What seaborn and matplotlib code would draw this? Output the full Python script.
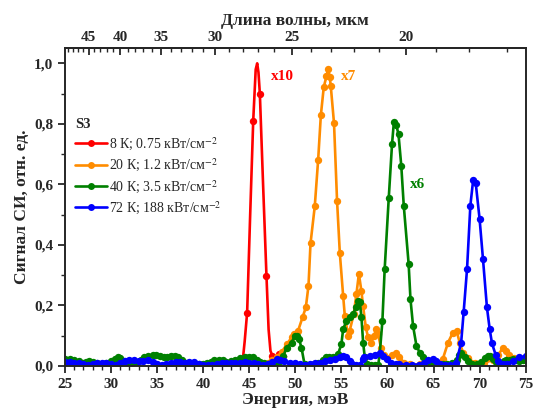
import numpy as np
import pandas as pd
import matplotlib
matplotlib.use("Agg")
import matplotlib.pyplot as plt
from matplotlib.ticker import MultipleLocator, FixedLocator, FuncFormatter
from matplotlib.lines import Line2D
import seaborn as sns

# ---------------- data ----------------
red_E = [42.0, 43.0, 44.0, 44.3, 44.5, 44.77, 45.1, 45.43, 45.7, 45.86, 46.0, 46.15,
         46.5, 46.87, 47.1, 47.3, 47.5, 47.8, 48.2, 48.6, 49.0]
red_v = [0.004, 0.004, 0.004, 0.02, 0.08, 0.176, 0.50, 0.81, 0.98, 1.0, 0.97, 0.90,
         0.60, 0.296, 0.12, 0.05, 0.033, 0.03, 0.039, 0.035, 0.03]
red_marks = [5, 7, 11, 13, 16, 18]

orange_E = [47.0, 47.5, 48.0, 48.5, 49.1, 49.59, 49.84, 50.3, 50.78, 51.14, 51.43, 51.65,
            52.11, 52.48, 52.77, 53.09, 53.38, 53.56, 53.74, 53.85, 54.2, 54.53, 54.83,
            55.19, 55.37, 55.73, 55.9, 56.34, 56.63, 56.9, 57.17, 57.35, 57.65, 57.9,
            58.26, 58.51, 58.8, 58.98, 59.3, 59.6, 60.0, 60.5, 60.9, 61.3, 61.8, 62.5,
            63.5, 64.5, 65.5, 66.0, 66.58, 67.1, 67.5, 67.84, 68.2, 68.7, 69.5, 70.5,
            71.5, 72.0, 72.54, 72.83, 73.2, 73.7, 74.3, 75.0]
orange_v = [0.01, 0.02, 0.03, 0.045, 0.072, 0.094, 0.105, 0.116, 0.16, 0.193, 0.265, 0.405,
            0.527, 0.682, 0.828, 0.922, 0.957, 0.982, 0.955, 0.924, 0.802, 0.546, 0.373,
            0.232, 0.166, 0.099, 0.116, 0.171, 0.237, 0.304, 0.248, 0.199, 0.127, 0.094,
            0.077, 0.099, 0.121, 0.105, 0.06, 0.035, 0.025, 0.035, 0.044, 0.03, 0.01, 0.005,
            0.005, 0.005, 0.01, 0.022, 0.077, 0.11, 0.116, 0.077, 0.044, 0.025, 0.01, 0.01,
            0.02, 0.035, 0.06, 0.05, 0.035, 0.025, 0.02, 0.02]

green_E = [25.0, 25.5, 26.0, 26.5, 26.9, 27.3, 27.6, 28.0, 28.5, 29.0, 29.5, 30.0, 30.4,
           30.7, 31.0, 31.4, 31.8, 32.3, 32.7, 33.2, 33.6, 34.0, 34.5, 34.9, 35.3, 35.7,
           36.1, 36.5, 36.9, 37.3, 37.7, 38.1, 38.5, 39.0, 39.5, 40.0, 40.4, 40.8, 41.2,
           41.7, 42.1, 42.5, 43.0, 43.5, 44.0, 44.5, 45.0, 45.4, 45.8, 46.2, 46.6, 47.0,
           47.5, 48.0, 48.3, 48.7, 49.05, 49.6, 49.95, 50.2, 50.4, 50.67, 51.0, 51.5, 52.0,
           52.5, 53.0, 53.38, 53.7, 54.1, 54.64, 55.0, 55.19, 55.55, 55.9, 56.27, 56.56,
           56.8, 57.0, 57.18, 57.36, 57.54, 57.8, 58.2, 58.6, 59.0, 59.16, 59.45, 59.7,
           60.14, 60.5, 60.7, 60.97, 61.2, 61.5, 61.77, 62.3, 62.5, 62.78, 63.15, 63.5,
           63.9, 64.2, 64.6, 65.0, 65.5, 66.0, 66.5, 67.0, 67.5, 67.8, 68.0, 68.4, 68.75,
           69.2, 69.7, 70.2, 70.6, 70.9, 71.1, 71.45, 71.8, 72.2, 72.6, 72.9, 73.3, 73.6,
           74.0, 74.3, 74.7, 75.0]
green_v = [0.022, 0.023, 0.021, 0.015, 0.011, 0.014, 0.016, 0.013, 0.008, 0.007, 0.008,
           0.015, 0.024, 0.028, 0.025, 0.017, 0.013, 0.011, 0.012, 0.02, 0.028, 0.032,
           0.035, 0.035, 0.031, 0.028, 0.029, 0.033, 0.033, 0.029, 0.02, 0.01, 0.006,
           0.005, 0.005, 0.005, 0.008, 0.014, 0.018, 0.02, 0.018, 0.014, 0.015, 0.02,
           0.026, 0.03, 0.03, 0.028, 0.02, 0.013, 0.008, 0.006, 0.008, 0.012, 0.017,
           0.033, 0.06, 0.077, 0.1, 0.1, 0.088, 0.06, 0.005, 0.003, 0.005, 0.01, 0.02,
           0.028, 0.029, 0.03, 0.039, 0.072, 0.121, 0.149, 0.16, 0.171, 0.193, 0.215,
           0.21, 0.16, 0.077, 0.028, 0.005, 0.003, 0.003, 0.003, 0.039, 0.147, 0.32,
           0.554, 0.734, 0.806, 0.795, 0.765, 0.662, 0.53, 0.337, 0.22, 0.132, 0.066,
           0.044, 0.03, 0.017, 0.01, 0.008, 0.006, 0.005, 0.005, 0.008, 0.02, 0.035,
           0.044, 0.028, 0.017, 0.007, 0.006, 0.012, 0.025, 0.033, 0.033, 0.022, 0.014,
           0.011, 0.016, 0.019, 0.021, 0.022, 0.02, 0.017, 0.018, 0.02]

blue_E = [25.0, 25.5, 26.0, 26.5, 27.0, 27.5, 28.0, 28.5, 29.0, 29.5, 30.0, 30.5, 31.0,
          31.5, 32.0, 32.5, 33.0, 33.5, 34.0, 34.5, 35.0, 35.5, 36.0, 36.5, 37.0, 37.5,
          38.0, 38.5, 39.0, 39.5, 40.0, 40.5, 41.0, 41.5, 42.0, 42.5, 43.0, 43.5, 44.0,
          44.5, 45.0, 45.5, 46.0, 46.5, 47.0, 47.5, 48.0, 48.3, 48.8, 49.4, 50.0, 50.5,
          51.0, 51.6, 52.1, 52.66, 53.2, 53.75, 54.3, 54.8, 55.2, 55.55, 55.9, 56.2,
          56.6, 57.0, 57.3, 57.5, 58.1, 58.6, 59.2, 59.5, 59.9, 60.4, 60.9, 61.3, 62.0,
          62.7, 63.4, 64.0, 64.4, 64.95, 65.3, 65.7, 66.2, 66.8, 67.45, 68.0, 68.27,
          68.64, 69.0, 69.3, 69.58, 70.0, 70.37, 70.8, 71.1, 71.35, 71.75, 72.0, 72.5,
          73.0, 73.6, 74.3, 75.0]
blue_v = [0.012, 0.012, 0.01, 0.008, 0.005, 0.004, 0.007, 0.01, 0.011, 0.01, 0.007,
          0.004, 0.008, 0.015, 0.018, 0.018, 0.016, 0.017, 0.018, 0.014, 0.007, 0.004,
          0.006, 0.011, 0.014, 0.012, 0.011, 0.013, 0.012, 0.007, 0.003, 0.002, 0.003,
          0.006, 0.009, 0.011, 0.01, 0.009, 0.01, 0.012, 0.011, 0.008, 0.005, 0.004,
          0.006, 0.014, 0.022, 0.02, 0.015, 0.011, 0.008, 0.005, 0.004, 0.005, 0.008,
          0.011, 0.015, 0.019, 0.024, 0.028, 0.033, 0.028, 0.017, 0.005, 0.002, 0.003,
          0.022, 0.03, 0.033, 0.036, 0.041, 0.033, 0.022, 0.011, 0.006, 0.005, 0.004,
          0.003, 0.004, 0.01, 0.019, 0.022, 0.017, 0.005, 0.002, 0.002, 0.008, 0.077,
          0.177, 0.32, 0.53, 0.613, 0.605, 0.486, 0.353, 0.193, 0.121, 0.074, 0.036,
          0.017, 0.006, 0.006, 0.017, 0.028, 0.032]

labels = ["8 К; 0.75 кВт/см$^{-2}$", "20 К; 1.2 кВт/см$^{-2}$",
          "40 К; 3.5 кВт/см$^{-2}$", "72 К; 188 кВт/см$^{-2}$"]
colors = ["#ff0000", "#ff8c00", "#008000", "#0000ff"]
factors = ["x10", "x7", "x6"]
factor_pos = [(47.3, 0.955), (54.9, 0.955), (62.4, 0.60)]

xticks = [25, 30, 35, 40, 45, 50, 55, 60, 65, 70, 75]
yticks = [0.0, 0.2, 0.4, 0.6, 0.8, 1.0]
top_major = [45, 40, 35, 30, 25, 20]
top_minor = list(range(17, 50))

# ---------------- style ----------------
sns.set_style("ticks")
plt.rcParams["font.family"] = ["Liberation Serif", "DejaVu Serif"]
plt.rcParams["mathtext.fontset"] = "stix"
plt.rcParams["axes.linewidth"] = 1.4

fig = plt.figure(figsize=(5.35, 4.12), dpi=100)
ax = fig.add_axes([0.1215, 0.112, 0.861, 0.771])

series = [(red_E, red_v), (orange_E, orange_v), (green_E, green_v), (blue_E, blue_v)]
for i, ((E, v), c) in enumerate(zip(series, colors)):
    df = pd.DataFrame({"E": E, "v": v})
    kw = dict(markevery=red_marks) if i == 0 else {}
    sns.lineplot(data=df, x="E", y="v", ax=ax, color=c, marker="o", markersize=5.3,
                 markeredgewidth=0, linewidth=1.9, sort=False, estimator=None,
                 legend=False, **kw)

for txt, (px, py), c in zip(factors, factor_pos, colors[:3]):
    ax.text(px, py, txt, color=c, fontsize=11, fontweight="bold", ha="left", va="center")

ax.set_xlim(25, 75)
ax.set_ylim(0, 1.05)
ax.set_xticks(xticks)
ax.xaxis.set_minor_locator(MultipleLocator(1))
ax.set_yticks(yticks)
ax.yaxis.set_minor_locator(MultipleLocator(0.1))
ax.yaxis.set_major_formatter(FuncFormatter(lambda y, p: f"{y:.1f}".replace(".", ",")))
ax.tick_params(axis="both", which="major", direction="out", length=5, width=1.3,
               labelsize=11)
ax.tick_params(axis="both", which="minor", direction="out", length=3, width=1.0)
ax.tick_params(top=False, right=False)
for lab in ax.get_xticklabels() + ax.get_yticklabels():
    lab.set_fontweight("bold")

ax.set_xlabel("Энергия, мэВ", fontsize=12.5, fontweight="bold", labelpad=1)
ax.set_ylabel("Сигнал СИ, отн. ед.", fontsize=12.5, fontweight="bold", labelpad=3)

conv = lambda x: 1239.84 / np.asarray(x, dtype=float)
sec = ax.secondary_xaxis("top", functions=(conv, conv))
sec.xaxis.set_major_locator(FixedLocator(top_major))
sec.xaxis.set_minor_locator(FixedLocator(top_minor))
sec.tick_params(which="major", direction="in", length=5, width=1.3, labelsize=11, pad=3)
sec.tick_params(which="minor", direction="in", length=3, width=1.0)
for lab in sec.get_xticklabels():
    lab.set_fontweight("bold")
sec.set_xlabel("Длина волны, мкм", fontsize=12.5, fontweight="bold", labelpad=4)

handles = [Line2D([], [], color=c, marker="o", markersize=5, markeredgewidth=0,
                  linewidth=1.9) for c in colors]
leg = ax.legend(handles, labels, loc="upper left", bbox_to_anchor=(0.0, 0.81),
                frameon=False, title="S3", fontsize=10, handlelength=2.3,
                handletextpad=0.2, labelspacing=0.3, borderaxespad=0.3, numpoints=1)
leg.get_title().set_fontweight("bold")
leg.get_title().set_fontsize(10.5)
leg._legend_box.align = "left"

fig.savefig("out.png", dpi=100)
